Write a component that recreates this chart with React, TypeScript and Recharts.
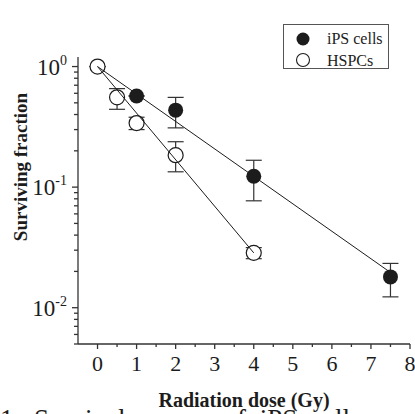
import React from 'react';
import { ComposedChart, Scatter, XAxis, YAxis, ErrorBar, Legend, Label } from 'recharts';

// measured points (dose in Gy, surviving fraction, error bar down / up)
const ipsDose = [1, 2, 4, 7.5];
const ipsFraction = [0.57, 0.435, 0.123, 0.018];
const ipsErrLow = [0, 0.125, 0.046, 0.0057];
const ipsErrHigh = [0, 0.12, 0.044, 0.0053];

const hspcDose = [0, 0.5, 1, 2, 4];
const hspcFraction = [1.0, 0.556, 0.34, 0.184, 0.0285];
const hspcErrLow = [0, 0.114, 0.04, 0.05, 0.003];
const hspcErrHigh = [0, 0.1, 0.04, 0.054, 0.003];

// fitted lines
const ipsFitDose = [0, 7.5];
const ipsFitFraction = [1, 0.0196];
const hspcFitDose = [0, 4];
const hspcFitFraction = [1, 0.0285];

const seriesNames = ['iPS cells', 'HSPCs'];

const xTicks = [0, 0.5, 1, 1.5, 2, 2.5, 3, 3.5, 4, 4.5, 5, 5.5, 6, 6.5, 7, 7.5, 8];
const yTicks = [
  0.005, 0.006, 0.007, 0.008, 0.009, 0.01,
  0.02, 0.03, 0.04, 0.05, 0.06, 0.07, 0.08, 0.09, 0.1,
  0.2, 0.3, 0.4, 0.5, 0.6, 0.7, 0.8, 0.9, 1,
];
const yMajor = [0.01, 0.1, 1];
const yExponent = ['-2', '-1', '0'];

const serif = "'Liberation Serif', 'Times New Roman', serif";
const ink = '#1c1c1c';

const toPoints = (xs: number[], ys: number[], lo?: number[], hi?: number[]) =>
  xs.map((x, i) => ({ x, y: ys[i], err: lo && hi ? [lo[i], hi[i]] : 0 }));

const ipsData = toPoints(ipsDose, ipsFraction, ipsErrLow, ipsErrHigh);
const hspcData = toPoints(hspcDose, hspcFraction, hspcErrLow, hspcErrHigh);
const ipsFit = toPoints(ipsFitDose, ipsFitFraction);
const hspcFit = toPoints(hspcFitDose, hspcFitFraction);

const XTick = (props: any) => {
  const { x, y, payload } = props;
  const v = payload.value;
  const major = Number.isInteger(v);
  return (
    <g>
      <line x1={x} y1={y} x2={x} y2={y + (major ? 5 : 3)} stroke="#333" strokeWidth={1.3} />
      {major && (
        <text x={x} y={y + 27} textAnchor="middle" fontSize={22} fontFamily={serif} fill={ink}>
          {v}
        </text>
      )}
    </g>
  );
};

const YTick = (props: any) => {
  const { x, y, payload } = props;
  const idx = yMajor.indexOf(payload.value);
  const major = idx >= 0;
  return (
    <g>
      <line x1={x - (major ? 6 : 4)} y1={y} x2={x} y2={y} stroke="#333" strokeWidth={1.3} />
      {major && (
        <text x={x - 11} y={y + 8} textAnchor="end" fontSize={23} fontFamily={serif} fill={ink}>
          10
          <tspan dy={-10} fontSize={14}>
            {yExponent[idx]}
          </tspan>
        </text>
      )}
    </g>
  );
};

const filledDot = (p: any) => <circle cx={p.cx} cy={p.cy} r={7.5} fill={ink} />;
const openDot = (p: any) => (
  <circle cx={p.cx} cy={p.cy} r={7.5} fill="#fff" stroke={ink} strokeWidth={1.2} />
);
const noDot = () => <g />;

const renderLegend = () => (
  <div style={{ width: 106, height: 45, border: '1px solid #555', boxSizing: 'border-box', background: '#fff' }}>
    <svg width={104} height={43} style={{ display: 'block' }}>
      <circle cx={19} cy={14} r={6.5} fill={ink} />
      <circle cx={19} cy={35} r={6.5} fill="none" stroke={ink} strokeWidth={1.1} />
      <text x={43} y={19} fontSize={16} fontFamily={serif} fill={ink}>
        {seriesNames[0]}
      </text>
      <text x={43} y={40.5} fontSize={16} fontFamily={serif} fill={ink}>
        {seriesNames[1]}
      </text>
    </svg>
  </div>
);

export default function App() {
  return (
    <div
      style={{
        position: 'absolute',
        left: 0,
        top: 0,
        width: 415,
        height: 414,
        overflow: 'hidden',
        background: '#fff',
      }}
    >
      <ComposedChart width={415} height={414} margin={{ top: 12, right: 5, bottom: 0, left: 0 }}>
        <XAxis
          type="number"
          dataKey="x"
          domain={[-0.5, 8]}
          ticks={xTicks}
          interval={0}
          allowDataOverflow
          height={70}
          tickSize={0}
          tickMargin={0}
          tickLine={false}
          tick={<XTick />}
          axisLine={{ stroke: '#333', strokeWidth: 1.3 }}
        >
          <Label
            content={() => (
              <text x={244} y={407} textAnchor="middle" fontSize={20} fontWeight="bold" fontFamily={serif} fill={ink}>
                Radiation dose (Gy)
              </text>
            )}
          />
        </XAxis>
        <YAxis
          type="number"
          dataKey="y"
          scale="log"
          domain={[0.005, 1.2]}
          ticks={yTicks}
          interval={0}
          allowDataOverflow
          width={78}
          tickSize={0}
          tickMargin={0}
          tickLine={false}
          tick={<YTick />}
          axisLine={{ stroke: '#333', strokeWidth: 1.3 }}
        >
          <Label
            content={() => (
              <text
                x={27}
                y={167}
                transform="rotate(-90 27 167)"
                textAnchor="middle"
                fontSize={19}
                fontWeight="bold"
                fontFamily={serif}
                fill={ink}
              >
                Surviving fraction
              </text>
            )}
          />
        </YAxis>
        <Legend
          layout="vertical"
          align="center"
          verticalAlign="top"
          content={renderLegend}
          wrapperStyle={{ position: 'absolute', left: 283, top: 24, width: 106 }}
        />
        <Scatter name={seriesNames[1]} data={hspcData} shape={openDot} isAnimationActive={false}>
          <ErrorBar dataKey="err" direction="y" width={8} stroke="#333" strokeWidth={1.2} />
        </Scatter>
        <Scatter name={seriesNames[0]} data={ipsData} shape={filledDot} isAnimationActive={false}>
          <ErrorBar dataKey="err" direction="y" width={8} stroke="#333" strokeWidth={1.2} />
        </Scatter>
        <Scatter
          name="iPS fit"
          data={ipsFit}
          shape={noDot}
          line={{ stroke: ink, strokeWidth: 1 }}
          legendType="none"
          isAnimationActive={false}
        />
        <Scatter
          name="HSPC fit"
          data={hspcFit}
          shape={noDot}
          line={{ stroke: ink, strokeWidth: 1 }}
          legendType="none"
          isAnimationActive={false}
        />
      </ComposedChart>
      <div
        style={{
          position: 'absolute',
          left: 0,
          top: 406,
          fontFamily: serif,
          fontSize: 27,
          lineHeight: '27px',
          wordSpacing: 7,
          whiteSpace: 'nowrap',
          color: ink,
        }}
      >
        1. Survival curves of iPS cells
      </div>
    </div>
  );
}
